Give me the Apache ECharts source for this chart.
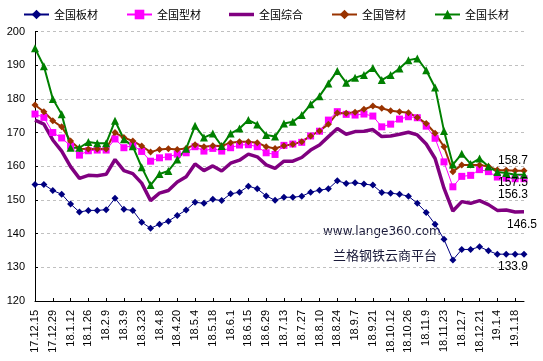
<!DOCTYPE html>
<html><head><meta charset="utf-8">
<script src="https://cdn.jsdelivr.net/npm/echarts@6/dist/echarts.min.js"></script>
<style>html,body{margin:0;padding:0;background:#fff}#c{width:543px;height:361px}</style>
</head><body><div id="c"></div>
<script>
const dates = ["17.12.15","17.12.22","17.12.29","18.1.5","18.1.12","18.1.19","18.1.26","18.2.2","18.2.9","18.3.2",
"18.3.9","18.3.16","18.3.23","18.3.30","18.4.8","18.4.13","18.4.20","18.4.27","18.5.4","18.5.11",
"18.5.18","18.5.25","18.6.1","18.6.8","18.6.15","18.6.22","18.6.29","18.7.6","18.7.13","18.7.20",
"18.7.27","18.8.3","18.8.10","18.8.17","18.8.24","18.8.31","18.9.7","18.9.14","18.9.21","18.9.28",
"18.10.12","18.10.19","18.10.26","18.11.2","18.11.9","18.11.16","18.11.23","18.11.30","18.12.7","18.12.14",
"18.12.21","18.12.28","19.1.4","19.1.11","19.1.18","19.1.25"];
const plate = [154.6,154.6,152.8,151.7,148.8,146.4,146.9,146.9,147.1,150.5,
147.2,146.9,143.4,141.6,142.8,143.7,145.4,147.0,149.3,149.0,
150.2,149.8,151.8,152.3,154.1,153.3,151.2,149.9,150.8,150.8,
151.1,152.3,152.9,153.3,155.7,154.9,155.1,154.7,154.4,152.2,
152.0,151.7,151.1,149.0,146.3,142.8,138.3,132.2,135.3,135.3,
136.1,134.9,133.9,133.9,133.9,133.9];
const section = [175.5,174.5,170.0,168.4,166.0,163.3,164.6,164.8,164.8,168.1,
165.5,166.2,164.4,161.5,162.5,162.8,163.6,164.0,165.8,164.5,
165.3,164.5,165.5,166.3,166.4,165.8,164.0,163.5,166.2,166.6,
167.1,169.0,170.4,173.7,176.2,175.4,175.2,175.5,174.9,171.7,
172.5,174.0,174.7,174.4,171.9,168.3,161.3,153.9,157.0,157.3,
159.0,158.4,156.8,156.5,156.3,156.3];
const composite = [173.7,172.5,167.8,164.5,159.9,156.4,157.3,157.2,157.6,162.0,
158.7,157.8,155.0,149.8,152.0,152.8,155.3,156.9,160.7,158.7,
160.1,158.6,160.9,161.8,163.6,162.8,160.4,159.4,161.5,161.5,
162.6,164.8,166.3,168.8,171.2,169.5,170.3,170.4,170.9,168.8,
169.0,169.5,170.1,169.3,166.6,162.3,153.5,146.7,149.5,149.0,
149.8,148.6,146.9,147.0,146.4,146.5];
const pipe = [178.2,176.2,173.5,171.7,167.5,165.2,165.1,165.1,165.1,170.0,
168.5,167.5,166.0,164.2,165.0,165.2,165.0,165.3,166.4,165.8,
166.1,166.0,167.0,167.3,167.3,167.0,165.8,165.3,166.1,166.5,
167.3,169.0,170.5,172.5,175.8,175.7,176.0,176.9,177.9,177.2,
176.5,176.2,175.9,174.5,172.7,169.8,165.8,158.4,160.4,160.4,
160.4,159.9,158.9,158.8,158.7,158.7];
const long = [195.0,189.7,180.0,175.4,165.5,165.5,167.2,166.8,166.8,173.5,
168.0,165.9,159.7,154.4,157.7,158.6,162.0,165.2,172.0,168.5,
169.7,166.0,169.7,171.2,173.7,172.4,169.3,168.8,172.7,173.2,
175.2,178.4,180.8,184.6,188.3,184.8,186.3,187.1,189.2,185.6,
187.1,189.0,191.5,192.0,188.5,183.4,170.5,160.5,163.7,160.7,
162.3,159.9,158.3,158.0,157.5,157.5];
const names = ["全国板材","全国型材","全国综合","全国管材","全国长材"];
const yTicks = {min:120, max:200, step:10};

const last = dates.length - 1;
function endMark(vals, off){
  return {
    silent:true, symbol:'circle', symbolSize:1, itemStyle:{color:'rgba(0,0,0,0)'},
    label:{show:true, position:'inside', formatter:(p)=>p.value.toFixed(1), offset:off,
      color:'#000', fontSize:12, fontFamily:'Liberation Sans'},
    data:[{coord:[dates[last], vals[last]], value: vals[last]}]
  };
}
const chart = echarts.init(document.getElementById('c'), null, {renderer:'canvas'});
chart.setOption({
  animation:false,
  backgroundColor:'#fff',
  textStyle:{fontFamily:'Liberation Sans'},
  legend:{
    top:9, left:23, padding:0, itemGap:28, itemWidth:25, itemHeight:12,
    textStyle:{fontSize:11, color:'#000', fontFamily:'Noto Sans CJK SC'},
    data:[names[0], names[1], {name:names[2], icon:'path://M0,0 h25 v3.5 h-25 z'}, names[3], names[4]]
  },
  grid:{left:35, right:19, top:31.5, bottom:60},
  xAxis:{
    type:'category', data:dates, boundaryGap:false,
    axisLine:{lineStyle:{color:'#000', width:1}},
    axisTick:{show:true, inside:true, length:3, interval:1, lineStyle:{color:'#000'}},
    axisLabel:{rotate:90, interval:1, fontSize:11, color:'#000', margin:9, fontFamily:'Liberation Sans'},
    splitLine:{show:false}
  },
  yAxis:{
    type:'value', min:yTicks.min, max:yTicks.max, interval:yTicks.step,
    axisLine:{show:true, lineStyle:{color:'#000', width:1}},
    axisTick:{show:true, inside:true, length:3, lineStyle:{color:'#000'}},
    axisLabel:{fontSize:11, color:'#000', margin:10, fontFamily:'Liberation Sans'},
    splitLine:{show:true, lineStyle:{color:'#c0c0c0', type:[3,3], width:1}}
  },
  graphic:[
    {type:'text', left:323, top:226, style:{text:'www.lange360.com', fontSize:12, fontFamily:'DejaVu Sans', fill:'#1a1a3a'}},
    {type:'text', left:333, top:249, style:{text:'兰格钢铁云商平台', fontSize:13, fontFamily:'Noto Sans CJK SC', fill:'#1a1a3a'}}
  ],
  series:[
    {name:names[0], type:'line', data:plate, symbol:'diamond', symbolSize:7, showAllSymbol:true,
     lineStyle:{color:'#000080', width:1}, itemStyle:{color:'#000080'},
     markPoint:endMark(plate,[-11,12.5])},
    {name:names[1], type:'line', data:section, symbol:'rect', symbolSize:7, showAllSymbol:true,
     lineStyle:{color:'#ff00ff', width:1}, itemStyle:{color:'#ff00ff'},
     markPoint:endMark(section,[-11,16])},
    {name:names[2], type:'line', data:composite, symbol:'none',
     lineStyle:{color:'#800080', width:3.5}, itemStyle:{color:'#800080'},
     markPoint:endMark(composite,[-2,13])},
    {name:names[3], type:'line', data:pipe, symbol:'diamond', symbolSize:7, showAllSymbol:true,
     lineStyle:{color:'#993300', width:2}, itemStyle:{color:'#993300'},
     markPoint:endMark(pipe,[-11,-10])},
    {name:names[4], type:'line', data:long, symbol:'triangle', symbolSize:8, showAllSymbol:true,
     lineStyle:{color:'#008000', width:2}, itemStyle:{color:'#008000'},
     markPoint:endMark(long,[-11,8])}
  ]
});
</script></body></html>
